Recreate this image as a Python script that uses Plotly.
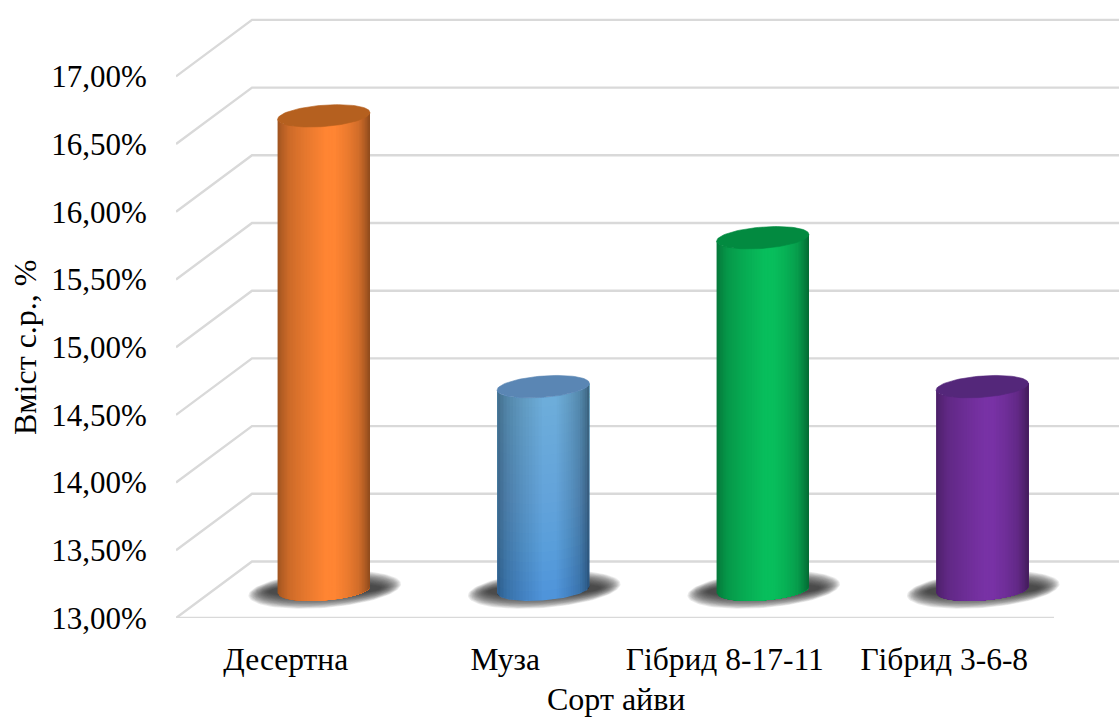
import numpy as np
import plotly.graph_objects as go

# Chart data
categories = ["Десертна", "Муза", "Гібрид 8-17-11", "Гібрид 3-6-8"]
values = [16.50, 14.50, 15.60, 14.50]
tick_values = [13.0, 13.5, 14.0, 14.5, 15.0, 15.5, 16.0, 16.5, 17.0]
tick_labels = ["13,00%", "13,50%", "14,00%", "14,50%", "15,00%", "15,50%", "16,00%", "16,50%", "17,00%"]
body_colors = [(255, 133, 51), (76, 146, 218), (8, 190, 92), (120, 50, 165)]
cap_colors = ["#B5601F", "#5A86B4", "#028A40", "#54277A"]

# Canvas and plot area, in pixels
WIDTH, HEIGHT = 1119, 718
LEFT, BOTTOM_Y = 176, 618
PX_PER_CAT, PX_PER_UNIT = 219.5, 135.4
BASE = 13.0

# Oblique depth of the floor, expressed in axis units
DEPTH_X = 76 / PX_PER_CAT
DEPTH_Y = 56.5 / PX_PER_UNIT

# Cylinder cross-section: x = A cos t + B sin t, y = C sin t
ELL_A = 44 / PX_PER_CAT
ELL_B = 14 / PX_PER_CAT
ELL_C = 11.2 / PX_PER_UNIT
RADIUS = np.hypot(ELL_A, ELL_B)
PHASE = np.arctan2(ELL_B, ELL_A)

GRID = "#D9D9D9"
FONT = "Liberation Serif"
TICK_SIZE = 31
TEXT_SIZE = 32

x_range = [-0.5, -0.5 + (WIDTH - LEFT) / PX_PER_CAT]
y_range = [BASE, BASE + BOTTOM_Y / PX_PER_UNIT]

fig = go.Figure()


def add_poly(xs, ys, fill, line=None, line_width=0.0):
    fig.add_trace(go.Scatter(
        x=xs, y=ys, mode="lines", fill="toself", fillcolor=fill,
        line=dict(color=line or "rgba(0,0,0,0)", width=line_width),
        hoverinfo="skip", showlegend=False,
    ))


def add_line(xs, ys):
    fig.add_trace(go.Scatter(
        x=xs, y=ys, mode="lines", line=dict(color=GRID, width=2.4),
        hoverinfo="skip", showlegend=False,
    ))


def ellipse(cx, cy, scale_xy=1.0, scale_h=1.0):
    t = np.linspace(0, 2 * np.pi, 90)
    return (cx + scale_xy * (ELL_A * np.cos(t) + ELL_B * np.sin(t)),
            cy + scale_h * ELL_C * np.sin(t))


def lower_edge(u):
    """Height of the ellipse's front edge at horizontal offset u."""
    return ELL_C * np.sin(PHASE - np.arccos(np.clip(u / RADIUS, -1, 1)))


def body_outline(cx, u0, u1, y_low, y_high, steps=30):
    """Polygon of the cylinder wall between offsets u0..u1."""
    us = np.linspace(u0, u1, steps)
    low = y_low + lower_edge(us)
    high = y_high + lower_edge(us)
    return (np.r_[cx + us, cx + us[::-1]], np.r_[low, high[::-1]])


# Shading across the cylinder wall
shade_pos = [0.0, 0.03, 0.12, 0.30, 0.52, 0.62, 0.76, 0.88, 0.95, 1.0]
shade_val = [0.62, 0.68, 0.80, 0.90, 1.00, 1.00, 0.92, 0.82, 0.68, 0.55]


def shade_at(u):
    return np.interp((u + RADIUS) / (2 * RADIUS), shade_pos, shade_val)


def add_wall_shading(cx, y_low, y_high, layers=16):
    """Darken a flat wall towards both edges with stacked black veils."""
    u_left = np.linspace(shade_pos[4] * 2 * RADIUS - RADIUS, -RADIUS, layers)
    u_right = np.linspace(shade_pos[5] * 2 * RADIUS - RADIUS, RADIUS, layers)
    for run, outer in ((u_left, -RADIUS), (u_right, RADIUS)):
        for near, far in zip(run[:-1], run[1:]):
            alpha = 1 - shade_at(far) / shade_at(near)
            xs, ys = body_outline(cx, far, outer, y_low, y_high)
            add_poly(xs, ys, "rgba(0,0,0,{:.4f})".format(alpha))


# Side wall and back wall gridlines
for v in tick_values:
    add_line([-0.5, -0.5 + DEPTH_X, x_range[1]], [v, v + DEPTH_Y, v + DEPTH_Y])
# Front edge of the floor
add_line([-0.5, 3.5], [BASE, BASE])

STRIPS = 60
for i, (value, rgb, cap) in enumerate(zip(values, body_colors, cap_colors)):
    cx = i + DEPTH_X / 2
    y_low = BASE + DEPTH_Y / 2
    y_high = value + DEPTH_Y / 2

    # Soft contact shadow built from stacked translucent ellipses
    layers = 18
    for s in np.linspace(1, -1, layers):
        sx, sy = ellipse(cx + 1 / PX_PER_CAT, y_low,
                         (66 + 10 * s) / 46, (12.5 + 6.5 * s) / 11.2)
        add_poly(sx, sy, "rgba(45,45,45,0.095)")

    if i == 1:
        # The blue cylinder lightens towards its top: a flat wall, pale veils
        # stacked upwards, then the sideways shading on top of them
        xs, ys = body_outline(cx, -RADIUS, RADIUS, y_low, y_high, steps=40)
        add_poly(xs, ys, "rgb({},{},{})".format(*rgb))
        for lo in np.linspace(y_low, y_high, 22)[:-1]:
            xs, ys = body_outline(cx, -RADIUS, RADIUS, lo, y_high, steps=40)
            add_poly(xs, ys, "rgba(130,190,240,0.05)")
        add_wall_shading(cx, y_low, y_high)
    else:
        # Each shade repaints everything to its right, so neighbouring
        # shades join without seams
        edges = np.linspace(-RADIUS, RADIUS, STRIPS + 1)
        for a, b in zip(edges[:-1], edges[1:]):
            m = shade_at((a + b) / 2)
            col = "rgb({:.0f},{:.0f},{:.0f})".format(*(c * m for c in rgb))
            xs, ys = body_outline(cx, a, RADIUS, y_low, y_high)
            add_poly(xs, ys, col)

    # Top cap
    tx, ty = ellipse(cx, y_high)
    add_poly(tx, ty, cap, cap, 0.6)

fig.update_xaxes(
    range=x_range, tickmode="array", tickvals=list(range(len(categories))), ticktext=categories,
    showgrid=False, zeroline=False, showline=False,
    ticks="outside", ticklen=13, tickcolor="rgba(0,0,0,0)",
    tickfont=dict(family=FONT, size=TEXT_SIZE - 0.5, color="#000000"), automargin=False,
)
fig.update_yaxes(
    range=y_range, tickmode="array", tickvals=tick_values, ticktext=tick_labels,
    showgrid=False, zeroline=False, showline=False,
    ticks="outside", ticklen=22, tickcolor="rgba(0,0,0,0)",
    tickfont=dict(family=FONT, size=TICK_SIZE, color="#000000"), automargin=False,
)

fig.update_layout(
    width=WIDTH, height=HEIGHT, autosize=False,
    margin=dict(l=LEFT, r=0, t=0, b=HEIGHT - BOTTOM_Y, pad=0),
    paper_bgcolor="white", plot_bgcolor="white", showlegend=False,
    annotations=[
        dict(text="Сорт айви", xref="paper", yref="paper",
             x=(616 - LEFT) / (WIDTH - LEFT), y=-(699 - BOTTOM_Y) / BOTTOM_Y,
             showarrow=False, xanchor="center", yanchor="middle",
             font=dict(family=FONT, size=TEXT_SIZE, color="#000000")),
        dict(text="Вміст с.р., %", xref="paper", yref="paper",
             x=-(LEFT - 25) / (WIDTH - LEFT), y=(BOTTOM_Y - 347) / BOTTOM_Y,
             textangle=-90, showarrow=False, xanchor="center", yanchor="middle",
             font=dict(family=FONT, size=TEXT_SIZE, color="#000000")),
    ],
)

fig.write_html("out.html")
